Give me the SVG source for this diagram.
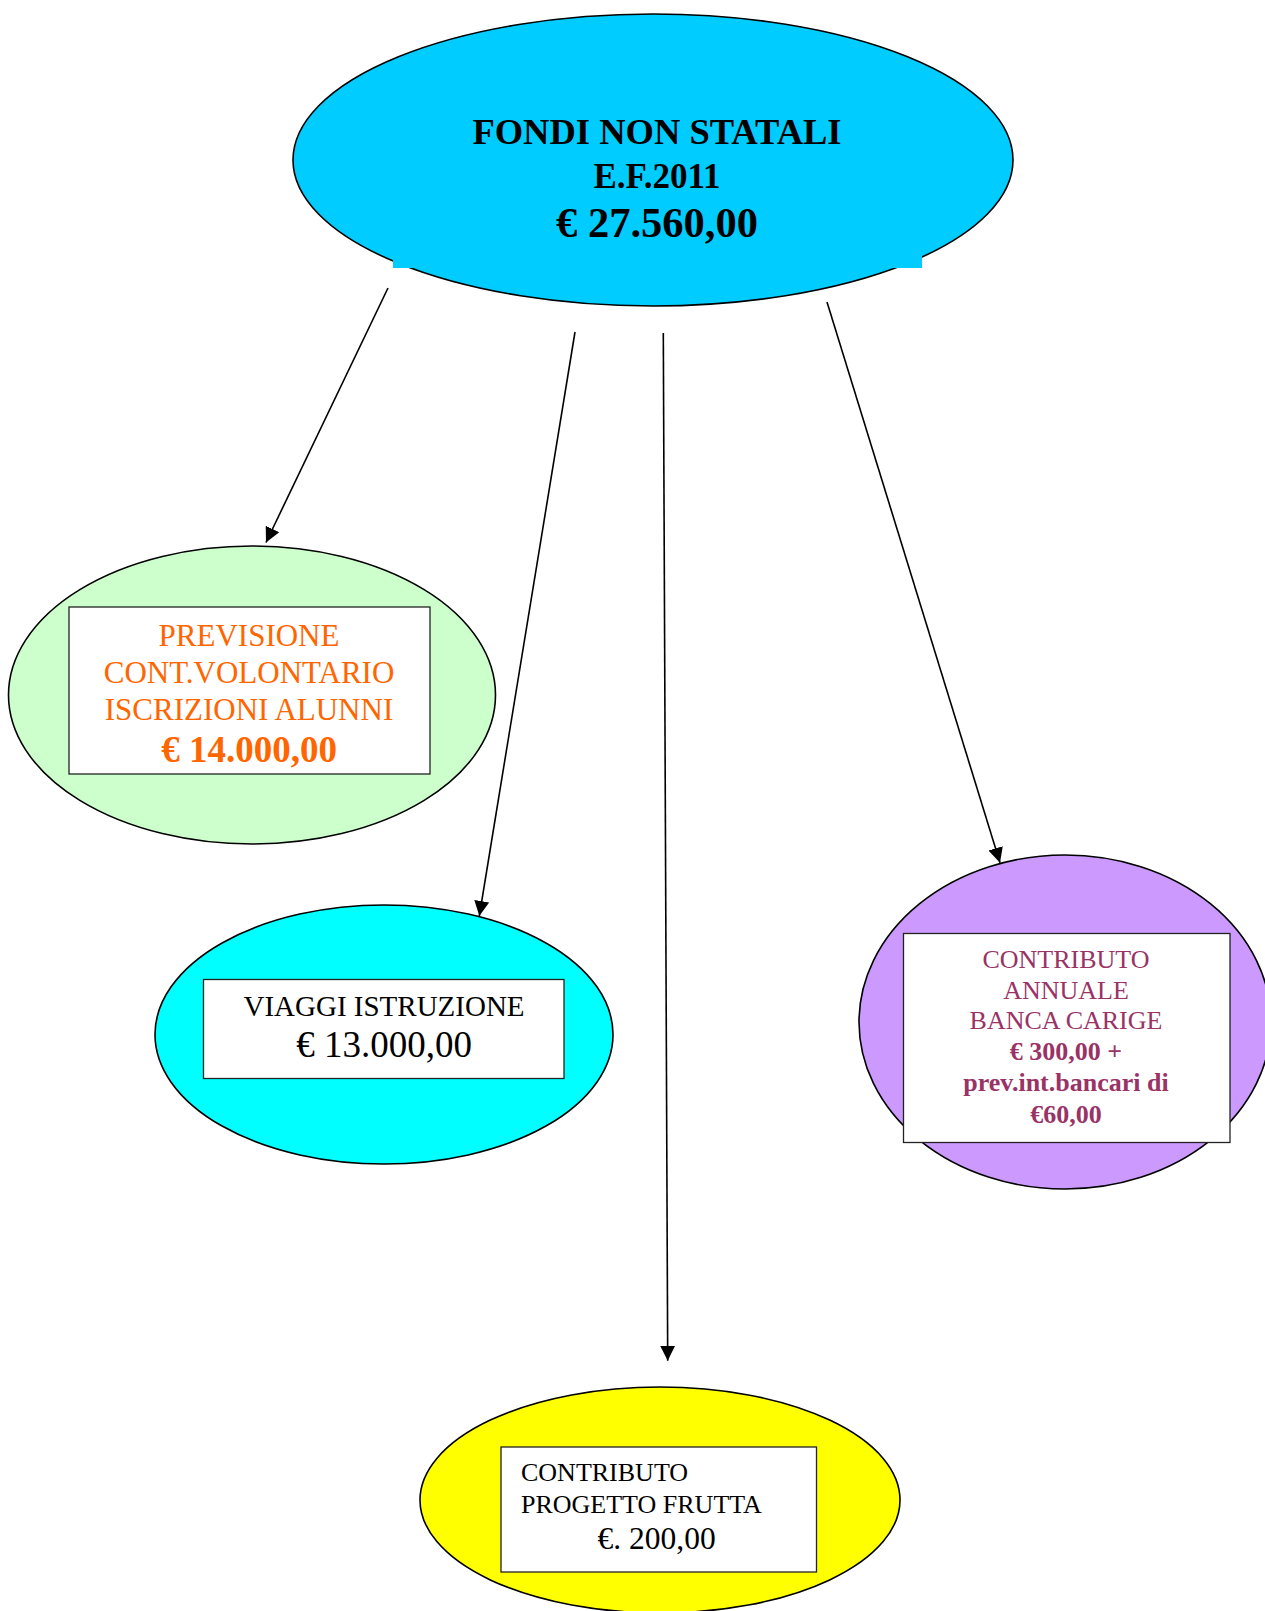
<svg xmlns="http://www.w3.org/2000/svg" width="1265" height="1611" viewBox="0 0 1265 1611">
<defs>
<style>
.ell{stroke:#000;stroke-width:1.6}
.box{fill:#fff;stroke:#222;stroke-width:1.3}
.t{font-family:"Liberation Serif","Times New Roman",serif}
.b{font-weight:bold}
.c{text-anchor:middle}
.edge{stroke:#000;stroke-width:1.6;fill:none;marker-end:url(#arr)}
</style>
<marker id="arr" markerUnits="userSpaceOnUse" markerWidth="16" markerHeight="16" viewBox="0 0 16 16" refX="15" refY="8" orient="auto">
<path d="M0,0.5 L15,8 L0,15.5 Z" fill="#000"/>
</marker>
</defs>
<rect width="1265" height="1611" fill="#fff"/>

<g id="root">
<ellipse class="ell" cx="653" cy="160" rx="360" ry="146" fill="#00CCFF"/>
<rect x="393" y="200" width="529" height="68" fill="#00CCFF"/>
<text class="t b c" x="657" y="144" font-size="36.5">FONDI NON STATALI</text>
<text class="t b c" x="657" y="188" font-size="35">E.F.2011</text>
<text class="t b c" x="657" y="237" font-size="42.5">€ 27.560,00</text>
</g>

<g id="node-contributo-volontario">
<ellipse class="ell" cx="252" cy="695" rx="243.5" ry="149" fill="#CCFFCC"/>
<rect class="box" x="69" y="607" width="361" height="167"/>
<g class="t c" fill="#FF6600">
<text x="249" y="646" font-size="31">PREVISIONE</text>
<text x="249" y="683" font-size="31">CONT.VOLONTARIO</text>
<text x="249" y="720" font-size="31">ISCRIZIONI ALUNNI</text>
<text class="b" x="249" y="762" font-size="37">€ 14.000,00</text>
</g>
</g>

<g id="node-viaggi">
<ellipse class="ell" cx="384" cy="1034.5" rx="229" ry="129.5" fill="#00FFFF"/>
<rect class="box" x="203.5" y="979.5" width="360.5" height="99"/>
<g class="t c" fill="#000">
<text x="384" y="1016" font-size="29">VIAGGI ISTRUZIONE</text>
<text x="384" y="1057" font-size="37">€ 13.000,00</text>
</g>
</g>

<g id="node-carige">
<ellipse class="ell" cx="1065" cy="1022" rx="206" ry="167" fill="#CC99FF"/>
<rect class="box" x="903.5" y="933.5" width="326.5" height="209"/>
<g class="t c" fill="#993366">
<text x="1066" y="968" font-size="26">CONTRIBUTO</text>
<text x="1066" y="998.5" font-size="26">ANNUALE</text>
<text x="1066" y="1029" font-size="26">BANCA CARIGE</text>
<text class="b" x="1066" y="1060" font-size="26">€ 300,00 +</text>
<text class="b" x="1066" y="1090.5" font-size="26">prev.int.bancari di</text>
<text class="b" x="1066" y="1122.5" font-size="26">€60,00</text>
</g>
</g>

<g id="node-frutta">
<ellipse class="ell" cx="660" cy="1500" rx="240" ry="113" fill="#FFFF00"/>
<rect class="box" x="501" y="1447" width="315.5" height="125"/>
<g class="t" fill="#000">
<text x="521" y="1481" font-size="26">CONTRIBUTO</text>
<text x="521" y="1512.5" font-size="26">PROGETTO FRUTTA</text>
<text x="597.5" y="1548.5" font-size="31.5">€. 200,00</text>
</g>
</g>

<g id="connectors">
<line class="edge" x1="388" y1="288" x2="266" y2="542.5"/>
<line class="edge" x1="575" y1="332" x2="479.3" y2="916"/>
<line class="edge" x1="663.3" y1="333" x2="667.7" y2="1360.7"/>
<line class="edge" x1="827" y1="302" x2="1000" y2="862.7"/>
</g>
</svg>
